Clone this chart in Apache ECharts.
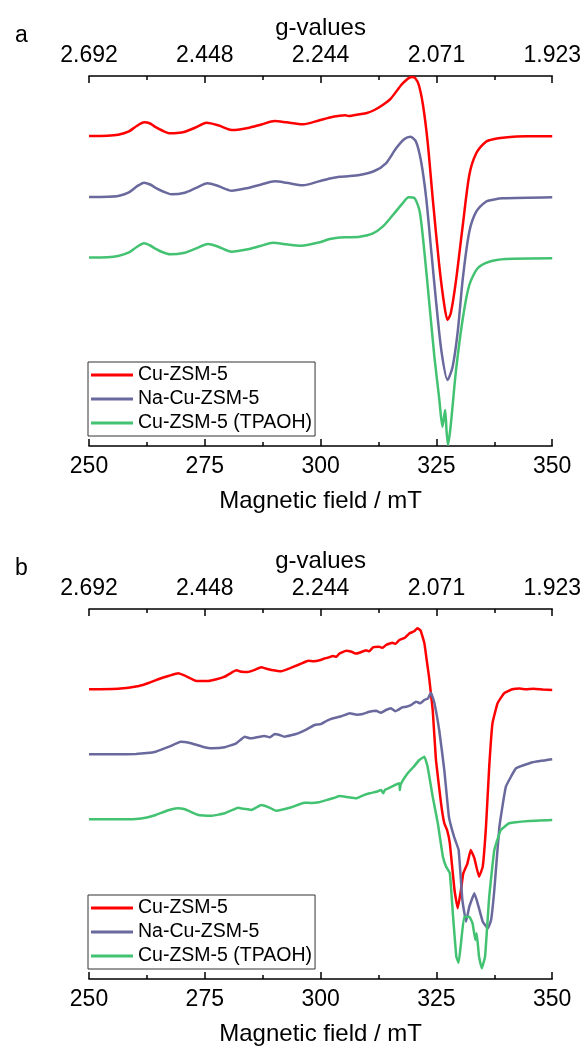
<!DOCTYPE html>
<html>
<head>
<meta charset="utf-8">
<title>EPR spectra of Cu-ZSM-5 samples</title>
<script src="https://cdn.jsdelivr.net/npm/echarts@6/dist/echarts.min.js"></script>
<style>
  html, body { margin: 0; padding: 0; background: #fff; }
  #chart { width: 584px; height: 1048px; }
</style>
</head>
<body>
<div id="chart"></div>
<script>
// Series names and colours
const seriesNames = ['Cu-ZSM-5', 'Na-Cu-ZSM-5', 'Cu-ZSM-5 (TPAOH)'];
const seriesColors = ['#ff0000', '#6a699d', '#43c272'];

// Tick labels of the upper (g-value) axis, one per 25 mT major tick
const fieldTicks = [250, 275, 300, 325, 350];
const gLabels = ['2.692', '2.448', '2.244', '2.071', '1.923'];

// Vertical stacking offsets (a.u.) of each trace
const offsetsA = [310, 249, 188.5];
const offsetsB = [289.7, 224.7, 159.7];

// ---- Panel a: field (mT) and signal (a.u.) ----
const fieldA1 = [250, 254, 256.3, 258.5, 260.3, 261.9, 263.2, 264.2, 265.8, 267.5, 269, 270.7, 273, 275.4, 277.9, 280.8, 282.5, 284.3, 287.2, 290.1, 292.6, 296.2, 299.6, 302, 304.1, 305.3, 306, 308.4, 310, 311.6, 313.4, 315.2, 317.4, 318.5, 319.2, 319.7, 320.4, 321.2, 322.1, 323.1, 324.2, 325.6, 326.7, 327.4, 328.1, 329.2, 330.7, 332.1, 333.6, 335.7, 337.5, 339.3, 344.3, 350];
const signalA1 = [0, 0.3, 1.3, 4.3, 10, 13.7, 12.5, 9.3, 5.5, 2.7, 3, 4.3, 8.5, 13.3, 10.7, 6, 6.6, 8, 11.5, 15, 13.7, 11.7, 15.5, 18.5, 20.3, 20.8, 20.0, 21.7, 23, 26, 31, 37.7, 51, 56, 58.3, 59, 58, 51, 31, -5.7, -62.3, -129, -169, -184, -177.3, -145.7, -89, -39, -17.3, -5.7, -3, -1.7, -0.3, -0.3];

const fieldA2 = [250, 254, 256.3, 258.5, 260.3, 261.9, 263.2, 264.2, 266, 267.8, 270.7, 273, 275.6, 277.9, 280.8, 284.3, 287.2, 290.1, 292.6, 296.2, 299.6, 302, 304.1, 306, 308.4, 311.6, 314.1, 316.3, 318.1, 319.4, 320.6, 321.7, 322.8, 323.9, 325, 326.1, 327.4, 328.5, 329.6, 330.7, 332.1, 333.6, 335.7, 337.5, 339.3, 350];
const signalA2 = [0, 0.3, 1, 4.3, 10.5, 14.3, 12.5, 9.7, 5.5, 2.7, 4.3, 8.8, 13.7, 11, 6.3, 9, 12.5, 15.7, 14.3, 11.7, 15.6, 18.5, 20.3, 20.8, 22, 26, 33.7, 48.7, 58, 60.3, 55.3, 35.3, -1.3, -54.7, -108, -154.7, -183, -169.7, -134.7, -81.3, -34.7, -14.7, -4.7, -2.5, -1.3, -0.3];

const fieldA3 = [250, 254, 256.3, 258.5, 260.3, 261.9, 263.2, 264.2, 265.8, 267.5, 270.7, 273, 275.7, 277.9, 280.8, 284.3, 287, 289.7, 292.6, 295.8, 299.6, 302, 304.1, 306, 308.4, 311.3, 313.4, 315.6, 317.7, 319, 320.3, 321.4, 322.4, 323.5, 324.6, 325.6, 326.3, 326.7, 326.9, 327.2, 327.5, 328.1, 329.2, 330.7, 332.1, 333.9, 336.4, 340, 350];
const signalA3 = [0, 0.3, 1.5, 4.8, 10.5, 14.2, 12, 9.2, 5.5, 3.2, 4.8, 8.8, 13.5, 10.8, 5.8, 8.2, 11.5, 14.8, 13.2, 11.8, 15, 18.5, 20, 20.3, 20.8, 24.2, 30.8, 42.5, 54.2, 60.2, 59.2, 45.8, 5.8, -47.5, -100.8, -140.8, -169.2, -157.5, -152.5, -174.2, -187.5, -167.5, -114.2, -60.8, -27.5, -10.8, -4.2, -1.5, -0.8];

// ---- Panel b: field (mT) and signal (a.u.) ----
const fieldB1 = [250, 256.3, 260.8, 263, 265.1, 267.3, 269.3, 270.7, 273.2, 275.7, 277.5, 279.3, 280.7, 281.8, 283, 284.3, 285.8, 287.2, 288.3, 289.4, 291.5, 293.3, 295.1, 296.2, 297.3, 298.5, 300, 300.8, 301.5, 302.7, 303.4, 304, 305.5, 306.7, 307.5, 308.4, 309.8, 310.5, 311.3, 312.6, 313.4, 314.1, 315.5, 316.2, 317, 318.2, 319.2, 320.2, 320.9, 321.6, 322.4, 322.9, 323.4, 324.2, 324.9, 326, 326.7, 327.3, 327.9, 328.9, 329.6, 330.3, 330.8, 331.7, 332.4, 333.2, 334.2, 335, 335.7, 336.4, 337.1, 338.2, 339.6, 341.4, 343, 344.3, 346, 348, 350];
const signalB1 = [0, 0.6, 3.3, 6.5, 10.3, 13.5, 16, 13.6, 8.3, 8.3, 10, 12.6, 16.5, 19, 17.5, 17.3, 19.5, 22, 20.5, 19.3, 18, 21, 24.3, 26.5, 28.6, 28, 29.3, 30.8, 31.5, 33.3, 32.5, 35.5, 38.6, 37.5, 35.8, 36.6, 39, 38, 42, 42.5, 41.5, 44.3, 46.5, 45.5, 49.3, 51.5, 56, 58, 61, 58.6, 46, 29.3, 12.6, -20.7, -70.7, -114, -134, -140.7, -154, -200.7, -219, -200.7, -184, -174, -160.7, -169, -187.4, -177.4, -137.4, -77.4, -34, -14, -4, 0, 0.8, 0, 0.5, -0.3, -0.7];

const fieldB2 = [250, 256, 260.1, 262.5, 264.4, 267.3, 269.8, 271.6, 274.5, 276.6, 279.3, 281.8, 283.6, 284.8, 285.8, 287.9, 289, 290.1, 291, 292.2, 293.6, 295.1, 297, 298.7, 300, 301.3, 302.7, 304.5, 306.3, 307.8, 309.1, 310.5, 312, 313, 314.1, 315.2, 316.1, 316.7, 317.6, 318.5, 319.6, 320.6, 321.5, 322.4, 323.2, 323.8, 324.5, 325.6, 326.7, 327.7, 328.8, 329.8, 330.6, 331.4, 332.1, 333.2, 333.9, 335, 336.1, 336.8, 337.5, 338.6, 340, 342.2, 345.8, 350];
const signalB2 = [0, 0, 0.3, 1.2, 2.6, 7.6, 12.6, 11.6, 7.6, 6, 7, 11, 17.6, 16, 16.6, 18.3, 17, 20.3, 19.5, 17.6, 19, 21, 25, 29.3, 30.2, 33.5, 36, 38, 41, 39.5, 40.3, 42.5, 43.6, 41.5, 44.3, 46, 43, 44.3, 47, 47.6, 49.5, 52.6, 51, 54.3, 56, 61.6, 52.6, 24.3, -15.7, -62.4, -82.4, -95.7, -145.7, -167.4, -152.4, -139, -149, -167.4, -174, -165.7, -135.7, -72.4, -32.4, -14, -8, -5];

const fieldB3 = [250, 256, 260.1, 262.5, 264.4, 267.3, 269.1, 270.7, 273.6, 276.6, 279.3, 282.2, 283.3, 284.3, 285, 286, 287.2, 288.8, 290.4, 293.7, 296.5, 298, 299.6, 301.5, 303, 304.1, 306, 307.7, 309.2, 310.6, 312, 313.1, 313.5, 313.9, 315.3, 317, 317.1, 317.3, 318.8, 320, 321.3, 322.4, 323.1, 324.2, 325.3, 326.4, 327.1, 327.9, 328.6, 329.3, 329.8, 330.3, 331, 332.1, 332.8, 333.4, 333.7, 334.2, 334.8, 335.5, 336.4, 337.5, 338.9, 340.7, 345, 350];
const signalB3 = [0, 0, 0.3, 1.8, 4.3, 9.3, 11, 10, 4.3, 3.6, 6, 11.6, 10.5, 10, 9.3, 11.5, 14.3, 12, 8.6, 12, 16.6, 16.3, 17, 19.5, 21.6, 23.3, 22, 21, 24, 26, 27.5, 29.3, 26, 29.5, 32.6, 36, 29.3, 35, 46, 52, 59.3, 62.6, 52.6, 22.6, -4, -37.4, -47.4, -54, -97.4, -137.4, -143.4, -124, -97.4, -97.4, -104, -120.7, -114, -137.4, -149, -137.4, -77.4, -30.7, -10.7, -4, -1.7, -0.7];

const panelFields = [[fieldA1, fieldA2, fieldA3], [fieldB1, fieldB2, fieldB3]];
const panelSignals = [[signalA1, signalA2, signalA3], [signalB1, signalB2, signalB3]];
const panelOffsets = [offsetsA, offsetsB];
const panelLetters = ['a', 'b'];

const FONT = "'Liberation Sans', Arial, Helvetica, sans-serif";
const INK = '#000';

// Layout of the two stacked panels
const gridTops = [76, 609];
const gridHeight = 370;
const legendTops = [362, 895];

function fieldAxis(gridIndex, isTop) {
  return {
    type: 'value',
    gridIndex: gridIndex,
    position: isTop ? 'top' : 'bottom',
    min: fieldTicks[0],
    max: fieldTicks[fieldTicks.length - 1],
    interval: 25,
    name: isTop ? 'g-values' : 'Magnetic field / mT',
    nameLocation: 'middle',
    nameGap: isTop ? 36 : 43,
    nameTextStyle: { fontSize: 24, color: INK, fontFamily: FONT },
    axisLine: { show: true, onZero: false, lineStyle: { color: INK, width: 1.6 } },
    axisTick: { show: true, inside: true, length: 7, lineStyle: { color: INK, width: 1.5 } },
    minorTick: { show: true, splitNumber: 2, length: 4, lineStyle: { color: INK, width: 1.5 } },
    splitLine: { show: false },
    minorSplitLine: { show: false },
    axisLabel: {
      fontSize: 23,
      color: INK,
      fontFamily: FONT,
      margin: isTop ? 9 : 9,
      showMinLabel: true,
      showMaxLabel: true,
      formatter: isTop
        ? function (v) { return gLabels[fieldTicks.indexOf(Math.round(v))] || ''; }
        : function (v) { return String(Math.round(v)); }
    }
  };
}

const grids = [], xAxes = [], yAxes = [], series = [], legends = [], graphics = [];

for (let p = 0; p < 2; p++) {
  grids.push({ left: 89, right: 31, top: gridTops[p], height: gridHeight });
  xAxes.push(fieldAxis(p, false));
  xAxes.push(fieldAxis(p, true));
  yAxes.push({ type: 'value', gridIndex: p, min: 0, max: 370, show: false });

  for (let s = 0; s < 3; s++) {
    const f = panelFields[p][s];
    const sig = panelSignals[p][s];
    const off = panelOffsets[p][s];
    series.push({
      type: 'line',
      name: seriesNames[s],
      xAxisIndex: p * 2,
      yAxisIndex: p,
      symbol: 'none',
      smooth: p === 0 ? 0.25 : 0.1,
      color: seriesColors[s],
      lineStyle: { width: 2.5, color: seriesColors[s] },
      silent: true,
      animation: false,
      data: f.map(function (x, i) { return [x, off + sig[i]]; })
    });
  }

  legends.push({
    data: seriesNames,
    orient: 'vertical',
    left: 88,
    top: legendTops[p],
    icon: 'rect',
    itemWidth: 42,
    itemHeight: 3,
    itemGap: 4,
    padding: [3, 3, 3, 3],
    borderColor: '#333',
    borderWidth: 1,
    backgroundColor: '#fff',
    selectedMode: false,
    textStyle: { fontSize: 19.5, lineHeight: 19.5, color: INK, fontFamily: FONT }
  });

  graphics.push({
    type: 'text',
    left: 15,
    top: gridTops[p] - 52,
    style: { text: panelLetters[p], fontSize: 23, fill: INK, fontFamily: FONT }
  });
}

const chart = echarts.init(document.getElementById('chart'), null, { renderer: 'canvas' });
chart.setOption({
  backgroundColor: '#fff',
  animation: false,
  grid: grids,
  xAxis: xAxes,
  yAxis: yAxes,
  legend: legends,
  graphic: graphics,
  series: series
});
</script>
</body>
</html>
